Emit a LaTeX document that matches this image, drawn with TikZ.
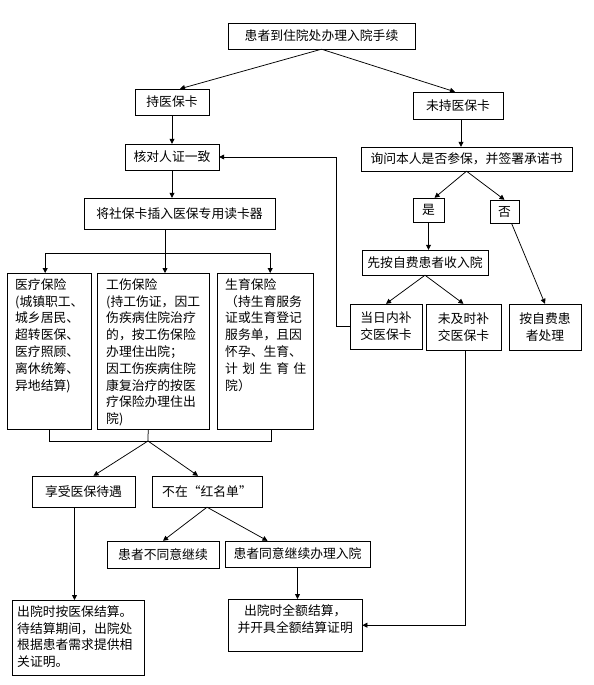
\documentclass[tikz,border=0pt]{standalone}
\usepackage{fontspec}
\newfontfamily\cjk{Noto Sans CJK SC}
\usetikzlibrary{arrows.meta,calc}

\begin{document}
\begin{tikzpicture}[
    x=1pt, y=-1pt,
    every node/.style={font=\cjk\fontsize{12.8}{16.8}\selectfont},
    box/.style={draw, align=center, inner sep=0pt},
    tallbox/.style={draw, anchor=north west, inner ysep=4pt, text height=12pt},
    arrow/.style={-{Triangle[length=5pt,width=5pt]}, line width=0.75pt},
    line/.style={line width=0.75pt}
]
\useasboundingbox (0,0) rectangle (594,685);

\node[box, minimum width=187pt, minimum height=26pt] (admit) at (321.5,36) {患者到住院处办理入院手续};
\node[box, minimum width=74pt, minimum height=26pt] (card) at (172,102) {持医保卡};
\node[box, minimum width=90pt, minimum height=27pt] (nocard) at (458,105.5) {未持医保卡};
\node[box, minimum width=94pt, minimum height=26pt] (verify) at (172,157) {核对人证一致};
\node[box, minimum width=191pt, minimum height=31pt] (reader) at (179.5,213.5) {将社保卡插入医保专用读卡器};
\node[box, minimum width=211pt, minimum height=24pt] (ask) at (466.5,159) {询问本人是否参保，并签署承诺书};
\node[box, minimum width=31pt, minimum height=24pt] (yes) at (428.5,210) {是};
\node[box, minimum width=29pt, minimum height=23pt] (no) at (504.5,211.5) {否};
\node[box, minimum width=126pt, minimum height=25pt] (selfadmit) at (425,262.5) {先按自费患者收入院};
\node[box, minimum width=72pt, minimum height=45pt] (sameday) at (386,326.5) {当日内补\\交医保卡};
\node[box, minimum width=75pt, minimum height=46pt] (late) at (463.5,327) {未及时补\\交医保卡};
\node[box, minimum width=72pt, minimum height=46pt] (selfpay) at (545,327) {按自费患\\者处理};

% three kinds of insurance
\node[tallbox, inner xsep=8pt, text width=68pt, text depth=136pt, align=left] (medical) at (7,273)
    {医疗保险\\(城镇职工、\\城乡居民、\\超转医保、\\医疗照顾、\\离休统筹、\\异地结算)};
\node[tallbox, inner xsep=9pt, text width=94pt, text depth=136pt, align=left] (injury) at (97,273)
    {工伤保险\\(持工伤证，因工\\伤疾病住院治疗\\的，按工伤保险\\办理住出院；\\因工伤疾病住院\\康复治疗的按医\\疗保险办理住出\\院)};
\node[tallbox, inner xsep=8pt, text width=80pt, text depth=136pt, align=left] (birth) at (217,273)
    {生育保险\\（持生育服务\\证或生育登记\\服务单，且因\\怀孕、生育、\\\makebox[80pt][s]{计 划 生 育 住}\\院）};

\node[box, minimum width=103pt, minimum height=31pt] (enjoy) at (83.5,491.5) {享受医保待遇};
\node[box, minimum width=110pt, minimum height=31pt] (notred) at (207,491.5) {不在“红名单”};
\node[box, minimum width=112pt, minimum height=27pt] (refuse) at (163,554.5) {患者不同意继续};
\node[box, minimum width=145pt, minimum height=26pt] (agree) at (297.5,554) {患者同意继续办理入院};
\node[tallbox, inner xsep=7pt, text width=120pt, text depth=32pt, align=center] (fullpay) at (228,599)
    {出院时全额结算，\\并开具全额结算证明};
\node[tallbox, inner xsep=5pt, text width=122pt, text depth=55pt, align=left] (settle) at (12,600)
    {出院时按医保结算。\\待结算期间，出院处\\根据患者需求提供相\\关证明。};

\draw[arrow] (admit.south) -- ([xshift=8pt]card.north);
\draw[arrow] (admit.south) -- ([xshift=-3pt]nocard.north);
\draw[arrow] (card) -- (verify);
\draw[arrow] (verify) -- (verify |- reader.north);

\coordinate (split) at (165,253);
\draw[line] (split |- reader.south) -- (split);
\draw[arrow] (split) -| ([xshift=-4pt]medical.north);
\draw[arrow] (split) -- (split |- injury.north);
\draw[arrow] (split) -| ([xshift=5pt]birth.north);

\coordinate (merge) at (148,441);
\draw[line] (medical.south) |- (merge);
\draw[line] ([xshift=-5pt]injury.south) -- (merge);
\draw[line] ([xshift=6pt]birth.south) |- (merge);
\draw[arrow] (merge) -- ([xshift=10pt]enjoy.north);
\draw[arrow] (merge) -- ([xshift=-9pt]notred.north);
\draw[arrow] ([xshift=-9pt]enjoy.south) -- ([xshift=-9pt]enjoy.south |- settle.north);
\draw[arrow] (notred.south) -- (refuse.north);
\draw[arrow] (notred.south) -- ([xshift=-30pt]agree.north);
\draw[arrow] (agree) -- (agree |- fullpay.north);

\draw[arrow] ([xshift=3pt]nocard.south) -- ([xshift=3pt]nocard.south |- ask.north);
\draw[arrow] (ask.south) -- ([xshift=6pt]yes.north);
\draw[arrow] (ask.south) -- (no.north);
\draw[arrow] (yes) -- (yes |- selfadmit.north);
\draw[arrow] ([xshift=7pt]no.south) -- (selfpay.north);
\draw[arrow] (selfadmit.south) -- (sameday.north);
\draw[arrow] (selfadmit.south) -- (late.north);
\draw[arrow] (sameday.west) -- ++(-13,0) |- (verify.east);
\draw[arrow] ([xshift=2pt]late.south) |- (fullpay.east);

\end{tikzpicture}
\end{document}
